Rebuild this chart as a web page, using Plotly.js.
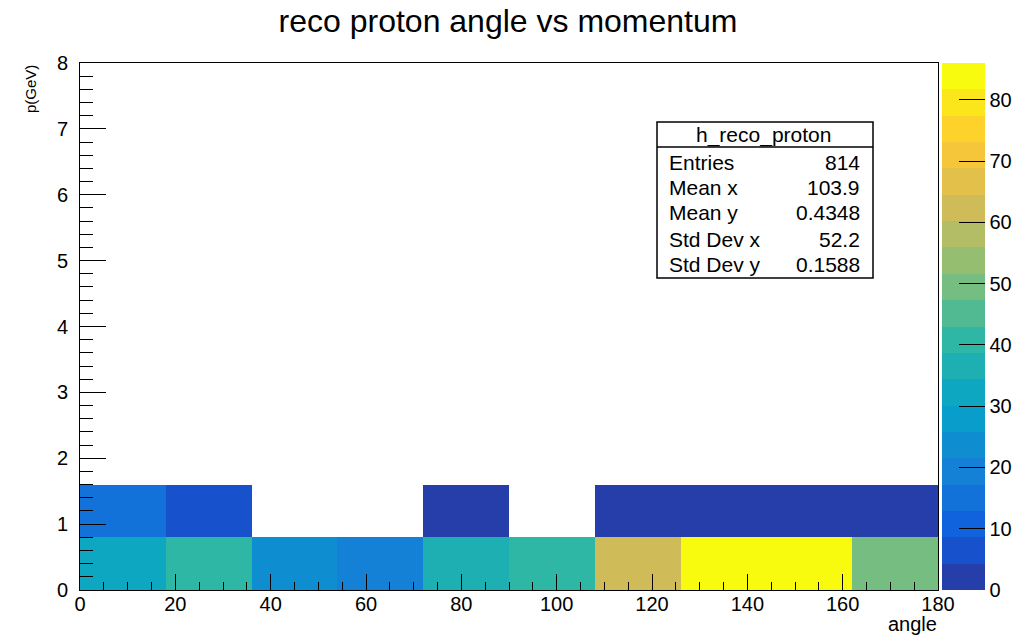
<!DOCTYPE html>
<html>
<head>
<meta charset="utf-8">
<script src="https://cdn.plot.ly/plotly-3.0.1.min.js"></script>
<style>html,body{margin:0;padding:0;background:#fff;}#chart{width:1029px;height:636px;}</style>
</head>
<body>
<div id="chart"></div>
<script>
// ---- data (bin contents) ----
var angleEdges = [0, 18, 36, 54, 72, 90, 108, 126, 144, 162, 180];
var momentumEdges = [0, 0.8, 1.6, 2.4, 3.2, 4.0, 4.8, 5.6, 6.4, 7.2, 8.0];
// p in [0, 0.8)
var countsRow1 = [33, 42, 24, 19, 36, 41, 62, 86, 84, 50];
// p in [0.8, 1.6)
var countsRow2 = [15, 6, 0, 0, 3, 0, 2, 3, 2, 2];
var statsNames = ["Entries", "Mean x", "Mean y", "Std Dev x", "Std Dev y"];
var statsValues = ["814", "103.9", "0.4348", "52.2", "0.1588"];
var histName = "h_reco_proton";
var colorbarTicks = [0, 10, 20, 30, 40, 50, 60, 70, 80];

// ---- build z (empty bins are not drawn) ----
var nx = angleEdges.length - 1, ny = momentumEdges.length - 1;
var z = [];
for (var j = 0; j < ny; j++) {
  var row = [];
  for (var i = 0; i < nx; i++) {
    var v = j === 0 ? countsRow1[i] : (j === 1 ? countsRow2[i] : 0);
    row.push(v > 0 ? v : null);
  }
  z.push(row);
}
var zmax = Math.max.apply(null, countsRow1.concat(countsRow2));

// ---- ROOT kBird palette, 20 contour levels ----
var st = [0.0, 0.125, 0.25, 0.375, 0.5, 0.625, 0.75, 0.875, 1.0];
var rr = [0.2082, 0.0592, 0.0780, 0.0232, 0.1802, 0.5301, 0.8186, 0.9956, 0.9764];
var gg = [0.1664, 0.3599, 0.5041, 0.6419, 0.7178, 0.7492, 0.7328, 0.7862, 0.9832];
var bb = [0.5293, 0.8684, 0.8385, 0.7914, 0.6425, 0.4662, 0.3499, 0.1968, 0.0539];
function bird(f) {
  f = Math.max(0, Math.min(1, f));
  var k = 0;
  while (k < st.length - 2 && f > st[k + 1]) k++;
  var t = (f - st[k]) / (st[k + 1] - st[k]);
  var c = function (a) { return Math.round(255 * (a[k] + t * (a[k + 1] - a[k]))); };
  return 'rgb(' + c(rr) + ',' + c(gg) + ',' + c(bb) + ')';
}
var nlev = 20, cs = [];
for (var l = 0; l < nlev; l++) {
  var col = bird(Math.min(1, (l + 0.99) / nlev));
  cs.push([l / nlev, col]);
  cs.push([(l + 1) / nlev, col]);
}

var FONT = 'Liberation Sans, Arial, Helvetica, sans-serif';

var trace = {
  type: 'heatmap',
  x: angleEdges,
  y: momentumEdges,
  z: z,
  zmin: 0,
  zmax: zmax,
  colorscale: cs,
  hoverongaps: false,
  colorbar: {
    x: 1 + 4 / 858, xanchor: 'left', xpad: 0,
    y: 0, yanchor: 'bottom', ypad: 0,
    len: 1, lenmode: 'fraction',
    thickness: 43, thicknessmode: 'pixels',
    outlinewidth: 0,
    ticks: 'inside', ticklen: 26, tickwidth: 1, tickcolor: '#000',
    tickvals: colorbarTicks,
    tickfont: {family: FONT, size: 20, color: '#000'}
  }
};

function px(xp) { return (xp - 80) / 858; }
function py(yp) { return 1 - (yp - 63) / 527; }

var shapes = [
  {type: 'rect', xref: 'paper', yref: 'paper',
   x0: px(657), x1: px(873), y0: py(278), y1: py(122),
   line: {color: '#000', width: 1.5}, fillcolor: '#fff', layer: 'above'},
  {type: 'line', xref: 'paper', yref: 'paper',
   x0: px(657), x1: px(873), y0: py(147), y1: py(147),
   line: {color: '#000', width: 1.5}, layer: 'above'}
];

var ann = [];
ann.push({xref: 'paper', yref: 'paper', x: px(763), y: py(135), text: histName,
  showarrow: false, xanchor: 'center', yanchor: 'middle', font: {family: FONT, size: 21, color: '#000'}});
var rowsY = [162, 187, 212, 239, 264];
for (var s = 0; s < statsNames.length; s++) {
  ann.push({xref: 'paper', yref: 'paper', x: px(667), y: py(rowsY[s]), text: statsNames[s],
    showarrow: false, xanchor: 'left', yanchor: 'middle', font: {family: FONT, size: 21, color: '#000'}});
  ann.push({xref: 'paper', yref: 'paper', x: px(862), y: py(rowsY[s]), text: statsValues[s],
    showarrow: false, xanchor: 'right', yanchor: 'middle', font: {family: FONT, size: 21, color: '#000'}});
}
// axis titles (ROOT style: at the end of the axis)
ann.push({xref: 'paper', yref: 'paper', x: 1, y: py(624), text: 'angle',
  showarrow: false, xanchor: 'right', yanchor: 'middle', borderpad: 0,
  font: {family: FONT, size: 20, color: '#000'}});
ann.push({xref: 'paper', yref: 'paper', x: px(30), y: 1, text: 'p(GeV)', textangle: -90,
  showarrow: false, xanchor: 'center', yanchor: 'top', font: {family: FONT, size: 15, color: '#000'}});

var layout = {
  width: 1029, height: 636,
  margin: {l: 80, r: 91, t: 63, b: 46, pad: 0, autoexpand: false},
  paper_bgcolor: '#fff', plot_bgcolor: '#fff',
  title: {text: 'reco proton angle vs momentum', x: 508 / 1029, xref: 'container', xanchor: 'center',
    y: 1 - 21 / 636, yref: 'container', yanchor: 'middle',
    font: {family: FONT, size: 32, color: '#000'}},
  xaxis: {
    range: [0, 180], tick0: 0, dtick: 20,
    ticks: 'inside', ticklen: 16, tickwidth: 1, tickcolor: '#000',
    minor: {dtick: 5, ticks: 'inside', ticklen: 8, tickwidth: 1, tickcolor: '#000', showgrid: false},
    showline: true, mirror: true, linecolor: '#000', linewidth: 1,
    showgrid: false, zeroline: false, automargin: false,
    ticklabelstandoff: -4,
    tickfont: {family: FONT, size: 20, color: '#000'}
  },
  yaxis: {
    range: [0, 8], tick0: 0, dtick: 1,
    ticks: 'inside', ticklen: 26, tickwidth: 1, tickcolor: '#000',
    minor: {dtick: 0.2, ticks: 'inside', ticklen: 13, tickwidth: 1, tickcolor: '#000', showgrid: false},
    showline: true, mirror: true, linecolor: '#000', linewidth: 1,
    showgrid: false, zeroline: false, automargin: false,
    ticklabelstandoff: 7,
    tickfont: {family: FONT, size: 20, color: '#000'}
  },
  shapes: shapes,
  annotations: ann,
  showlegend: false
};

Plotly.newPlot('chart', [trace], layout, {displayModeBar: false, staticPlot: true});
</script>
</body>
</html>
